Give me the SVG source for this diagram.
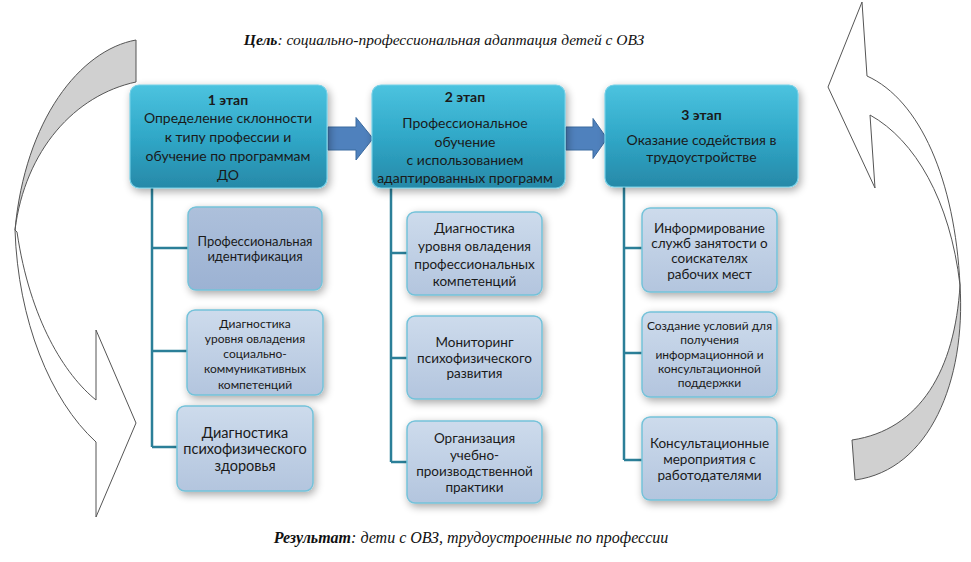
<svg xmlns="http://www.w3.org/2000/svg" width="971" height="562" viewBox="0 0 971 562">
<defs>
<linearGradient id="gStage" x1="0" y1="0" x2="0" y2="1">
<stop offset="0" stop-color="#4cc3df"/>
<stop offset="0.5" stop-color="#30a8c8"/>
<stop offset="1" stop-color="#2789a8"/>
</linearGradient>
<linearGradient id="gSub" x1="0" y1="0" x2="0" y2="1">
<stop offset="0" stop-color="#cddbec"/>
<stop offset="1" stop-color="#b3c5de"/>
</linearGradient>
<linearGradient id="gSubDark" x1="0" y1="0" x2="0" y2="1">
<stop offset="0" stop-color="#adc0db"/>
<stop offset="1" stop-color="#9cb2d3"/>
</linearGradient>
<filter id="sh" x="-20%" y="-20%" width="150%" height="150%">
<feGaussianBlur in="SourceAlpha" stdDeviation="4"/>
<feOffset dx="2" dy="3" result="b"/>
<feComponentTransfer><feFuncA type="linear" slope="0.35"/></feComponentTransfer>
<feMerge><feMergeNode/><feMergeNode in="SourceGraphic"/></feMerge>
</filter>
<style>
.stage{fill:url(#gStage);stroke:#74cfe6;stroke-width:1.2}
.sub{fill:url(#gSub);stroke:#74c2d9;stroke-width:1.5}
.subd{fill:url(#gSubDark);stroke:#74c2d9;stroke-width:1.5}
.t{font-family:Lato,"Noto Sans",sans-serif;fill:#1a1a1a;text-anchor:middle}
.ts{font-size:14px}
.tb{font-size:14px;font-weight:bold}
.s13{font-size:13px}
.s12{font-size:12px}
.s14{font-size:13.5px}
.s15{font-size:14.5px}
.conn{fill:none;stroke:#2b7f98;stroke-width:2.5}
.barr{fill:#4f81bd;stroke:#3b6a9f;stroke-width:1}
.cw{fill:#ffffff;stroke:#555555;stroke-width:1}
.cg{fill:#d0d0d0;stroke:#555555;stroke-width:1}
.cap{font-family:"Liberation Serif",serif;font-style:italic;fill:#111}
</style>
</defs>
<rect width="971" height="562" fill="#ffffff"/>

<g id="cycle-left">
<path class="cg" d="M136,40 C80,50 25,120 15,230 C25,150 75,95 136,82 Z"/>
<path class="cw" d="M15,230 C18,320 50,400 96,442 L96,517 L136,423 L96,330 L96,400 C65,375 30,320 17,232 Z"/>
</g>
<g id="cycle-right">
<path class="cw" d="M862,2 L867,76 C920,100 955,180 960,285 C950,200 915,140 870,115 L875,188 L828,87 Z"/>
<path class="cg" d="M960,285 C966,380 930,470 855,480 L852,440 C920,430 955,370 960,285 Z"/>
</g>

<text id="goal" class="cap" x="444" y="45" font-size="15.5" text-anchor="middle"><tspan font-weight="bold">Цель</tspan>: социально-профессиональная адаптация детей с ОВЗ</text>

<g id="connectors">
<path class="conn" d="M152,188 V447 M152,248 H188 M152,351 H187 M152,447 H177"/>
<path class="conn" d="M391,188 V462 M391,253 H407 M391,358 H407 M391,462 H407"/>
<path class="conn" d="M624,187 V460 M624,248 H642 M624,353 H642 M624,460 H642"/>
<path class="barr" d="M328,127 L356,127 L356,117.5 L373,138.5 L356,160 L356,150 L328,150 Z"/>
<path class="barr" d="M566,127 L593,127 L593,118.5 L607,138.5 L593,158.5 L593,150 L566,150 Z"/>
</g>

<g id="stage1">
<rect class="stage" x="130" y="85" width="197" height="103" rx="9" filter="url(#sh)"/>
<text class="t tb" x="228" y="105">1 этап</text>
<text class="t ts" x="228" y="123">Определение склонности</text>
<text class="t ts" x="228" y="142">к типу профессии и</text>
<text class="t ts" x="228" y="161">обучение по программам</text>
<text class="t ts" x="228" y="180">ДО</text>
</g>
<g id="stage2">
<rect class="stage" x="372" y="85" width="193" height="103" rx="9" filter="url(#sh)"/>
<text class="t tb" x="465" y="102">2 этап</text>
<text class="t ts" x="465" y="128">Профессиональное</text>
<text class="t ts" x="465" y="147">обучение</text>
<text class="t ts" x="465" y="165">с использованием</text>
<text class="t ts" x="465" y="183">адаптированных программ</text>
</g>
<g id="stage3">
<rect class="stage" x="605" y="85" width="193" height="102" rx="9" filter="url(#sh)"/>
<text class="t tb" x="701.5" y="120">3 этап</text>
<text class="t ts" x="701.5" y="145">Оказание содействия в</text>
<text class="t ts" x="701.5" y="162">трудоустройстве</text>
</g>

<g id="s1a">
<rect class="subd" x="188" y="207" width="134" height="83" rx="8" filter="url(#sh)"/>
<text class="t s13" x="255" y="246">Профессиональная</text>
<text class="t s13" x="255" y="261">идентификация</text>
</g>
<g id="s1b">
<rect class="sub" x="187" y="310" width="136" height="85" rx="8" filter="url(#sh)"/>
<text class="t s12" x="255" y="327.5">Диагностика</text>
<text class="t s12" x="255" y="342.5">уровня овладения</text>
<text class="t s12" x="255" y="357.5">социально-</text>
<text class="t s12" x="255" y="373">коммуникативных</text>
<text class="t s12" x="255" y="388.5">компетенций</text>
</g>
<g id="s1c">
<rect class="sub" x="177" y="406" width="136" height="85" rx="8" filter="url(#sh)"/>
<text class="t s15" x="245" y="437.5">Диагностика</text>
<text class="t s15" x="245" y="454">психофизического</text>
<text class="t s15" x="245" y="470.5">здоровья</text>
</g>

<g id="s2a">
<rect class="sub" x="407" y="212" width="135" height="83" rx="8" filter="url(#sh)"/>
<text class="t s14" x="474.5" y="233">Диагностика</text>
<text class="t s14" x="474.5" y="251">уровня овладения</text>
<text class="t s14" x="474.5" y="269">профессиональных</text>
<text class="t s14" x="474.5" y="286">компетенций</text>
</g>
<g id="s2b">
<rect class="sub" x="407" y="316" width="135" height="83" rx="8" filter="url(#sh)"/>
<text class="t s14" x="474.5" y="346.5">Мониторинг</text>
<text class="t s14" x="474.5" y="363">психофизического</text>
<text class="t s14" x="474.5" y="378">развития</text>
</g>
<g id="s2c">
<rect class="sub" x="407" y="421" width="135" height="82" rx="8" filter="url(#sh)"/>
<text class="t s14" x="474.5" y="443">Организация</text>
<text class="t s14" x="474.5" y="459.5">учебно-</text>
<text class="t s14" x="474.5" y="475.5">производственной</text>
<text class="t s14" x="474.5" y="491.5">практики</text>
</g>

<g id="s3a">
<rect class="sub" x="642" y="208" width="135" height="84" rx="8" filter="url(#sh)"/>
<text class="t s14" x="709.5" y="233">Информирование</text>
<text class="t s14" x="709.5" y="248">служб занятости о</text>
<text class="t s14" x="709.5" y="263">соискателях</text>
<text class="t s14" x="709.5" y="279">рабочих мест</text>
</g>
<g id="s3b">
<rect class="sub" x="642" y="312" width="135" height="85" rx="8" filter="url(#sh)"/>
<text class="t s12" x="709.5" y="329.5">Создание условий для</text>
<text class="t s12" x="709.5" y="343.5">получения</text>
<text class="t s12" x="709.5" y="358.5">информационной и</text>
<text class="t s12" x="709.5" y="372.5">консультационной</text>
<text class="t s12" x="709.5" y="386.5">поддержки</text>
</g>
<g id="s3c">
<rect class="sub" x="642" y="417" width="135" height="83" rx="8" filter="url(#sh)"/>
<text class="t s14" x="709.5" y="448">Консультационные</text>
<text class="t s14" x="709.5" y="464">мероприятия с</text>
<text class="t s14" x="709.5" y="480">работодателями</text>
</g>

<text id="result" class="cap" x="471" y="543" font-size="16" text-anchor="middle"><tspan font-weight="bold">Результат</tspan>: дети с ОВЗ, трудоустроенные по профессии</text>
</svg>
